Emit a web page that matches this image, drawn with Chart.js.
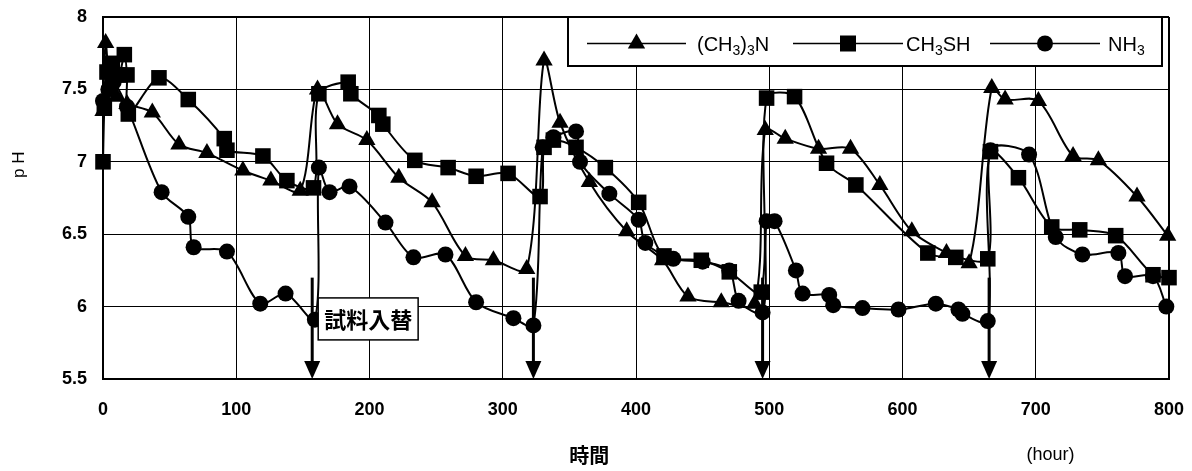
<!DOCTYPE html>
<html>
<head>
<meta charset="utf-8">
<script src="https://cdn.jsdelivr.net/npm/chart.js@4.4.1/dist/chart.umd.min.js"></script>
<style>
  html, body { margin: 0; padding: 0; background: #fff; }
</style>
</head>
<body>
<canvas id="phChart" width="1192" height="471"></canvas>
<script>
// tick labels
const xTicks = [0, 100, 200, 300, 400, 500, 600, 700, 800];
const yTicks = [5.5, 6, 6.5, 7, 7.5, 8];

// (CH3)3N
const tmaHours = [0, 2, 5, 10, 18, 37, 57, 78, 105, 126, 148, 161, 176, 198, 222, 247, 272, 293, 318, 331, 343, 365, 393, 420, 439, 464, 489, 497, 512, 537, 561, 583, 607, 633, 650, 667, 677, 702, 728, 747, 776, 799];
const tmaPH = [7.35, 7.82, 7.55, 7.45, 7.4, 7.34, 7.12, 7.06, 6.94, 6.87, 6.8, 7.5, 7.26, 7.15, 6.89, 6.72, 6.35, 6.32, 6.26, 7.7, 7.27, 6.86, 6.52, 6.32, 6.07, 6.03, 6.02, 7.22, 7.16, 7.09, 7.09, 6.84, 6.52, 6.37, 6.3, 7.51, 7.43, 7.42, 7.04, 7.01, 6.76, 6.49];

// CH3SH
const msHours = [0, 1, 3, 7, 12, 16, 18, 19, 42, 64, 91, 93, 120, 138, 158, 162, 184, 186, 207, 210, 234, 259, 280, 304, 328, 331, 338, 355, 377, 402, 421, 449, 470, 494, 498, 519, 543, 565, 619, 640, 664, 666, 687, 712, 733, 760, 788, 800];
const msPH = [7.0, 7.37, 7.62, 7.68, 7.6, 7.74, 7.6, 7.33, 7.58, 7.43, 7.16, 7.08, 7.04, 6.87, 6.82, 7.47, 7.55, 7.47, 7.32, 7.26, 7.01, 6.96, 6.9, 6.92, 6.76, 7.1, 7.15, 7.1, 6.96, 6.72, 6.35, 6.32, 6.24, 6.1, 7.44, 7.45, 6.99, 6.84, 6.37, 6.34, 6.33, 7.07, 6.89, 6.55, 6.53, 6.49, 6.22, 6.2];

// NH3
const nh3Hours = [0, 4, 8, 18, 44, 64, 68, 93, 118, 137, 159, 162, 170, 185, 212, 233, 257, 280, 308, 323, 330, 338, 355, 358, 380, 402, 407, 428, 450, 470, 477, 495, 498, 504, 520, 525, 545, 548, 570, 597, 625, 642, 645, 664, 666, 695, 715, 735, 762, 767, 788, 798];
const nh3PH = [7.42, 7.5, 7.55, 7.38, 6.79, 6.62, 6.41, 6.38, 6.02, 6.09, 5.91, 6.96, 6.79, 6.83, 6.58, 6.34, 6.36, 6.03, 5.92, 5.87, 7.1, 7.17, 7.21, 7.0, 6.78, 6.6, 6.44, 6.33, 6.31, 6.25, 6.04, 5.96, 6.59, 6.59, 6.25, 6.09, 6.08, 6.01, 5.99, 5.98, 6.02, 5.98, 5.95, 5.9, 7.08, 7.05, 6.48, 6.36, 6.37, 6.21, 6.21, 6.0];

// sample exchange times (arrows)
const swapHours = [157, 323, 495, 665];
const swapTopPH = 6.2;

function toPoints(xs, ys) {
  return xs.map((x, i) => ({ x: x, y: ys[i] }));
}

const legendItems = [
  { parts: [["(CH", 0], ["3", 1], [")", 0], ["3", 1], ["N", 0]], style: "triangle" },
  { parts: [["CH", 0], ["3", 1], ["SH", 0]], style: "rect" },
  { parts: [["NH", 0], ["3", 1]], style: "circle" }
];

function drawMarker(ctx, style, x, y) {
  ctx.beginPath();
  if (style === "triangle") {
    const r = 10;
    ctx.moveTo(x, y - r);
    ctx.lineTo(x + r * 0.866, y + r * 0.5);
    ctx.lineTo(x - r * 0.866, y + r * 0.5);
    ctx.closePath();
  } else if (style === "rect") {
    ctx.rect(x - 8, y - 8, 16, 16);
  } else {
    ctx.arc(x, y, 8, 0, Math.PI * 2);
  }
  ctx.fill();
}

const extrasPlugin = {
  id: "extras",
  afterDatasetsDraw(chart) {
    const ctx = chart.ctx;
    const xs = chart.scales.x;
    const ys = chart.scales.y;
    const area = chart.chartArea;
    ctx.save();
    ctx.fillStyle = "#000";
    ctx.strokeStyle = "#000";

    // arrows
    swapHours.forEach(h => {
      const px = xs.getPixelForValue(h);
      const top = ys.getPixelForValue(swapTopPH);
      ctx.lineWidth = 3;
      ctx.beginPath();
      ctx.moveTo(px, top);
      ctx.lineTo(px, area.bottom - 14);
      ctx.stroke();
      ctx.beginPath();
      ctx.moveTo(px - 8, area.bottom - 18);
      ctx.lineTo(px + 8, area.bottom - 18);
      ctx.lineTo(px, area.bottom);
      ctx.closePath();
      ctx.fill();
    });

    // label box
    const bl = xs.getPixelForValue(161.5), br = xs.getPixelForValue(236.5);
    const bt = ys.getPixelForValue(6.06), bb = ys.getPixelForValue(5.77);
    ctx.fillStyle = "#fff";
    ctx.fillRect(bl, bt, br - bl, bb - bt);
    ctx.lineWidth = 1.5;
    ctx.strokeRect(bl, bt, br - bl, bb - bt);
    ctx.fillStyle = "#000";
    ctx.font = "bold 22px 'Noto Sans CJK JP'";
    ctx.textAlign = "center";
    ctx.textBaseline = "middle";
    ctx.fillText("試料入替", (bl + br) / 2, (bt + bb) / 2 + 1);

    // legend
    const lx = 568, ly = 17, lw = 594, lh = 49;
    ctx.fillStyle = "#fff";
    ctx.fillRect(lx, ly, lw, lh);
    ctx.lineWidth = 2;
    ctx.strokeRect(lx, ly, lw, lh);
    ctx.fillStyle = "#000";
    const cy = ly + lh / 2 + 2;
    const segs = [[587, 686, 697], [793, 903, 906], [990, 1100, 1108]];
    legendItems.forEach((item, i) => {
      const s = segs[i];
      ctx.lineWidth = 1.5;
      ctx.beginPath();
      ctx.moveTo(s[0], cy);
      ctx.lineTo(s[1], cy);
      ctx.stroke();
      drawMarker(ctx, item.style, (s[0] + s[1]) / 2, cy);
      let tx = s[2];
      ctx.textAlign = "left";
      ctx.textBaseline = "alphabetic";
      item.parts.forEach(p => {
        ctx.font = p[1] ? "14px 'Liberation Sans'" : "20px 'Liberation Sans'";
        ctx.fillText(p[0], tx, cy + 7 + (p[1] ? 4 : 0));
        tx += ctx.measureText(p[0]).width;
      });
    });

    // axis titles
    ctx.textAlign = "center";
    ctx.textBaseline = "middle";
    ctx.font = "bold 20px 'Noto Sans CJK JP'";
    ctx.fillText("時間", xs.getPixelForValue(365), 455);
    ctx.font = "18px 'Liberation Sans'";
    ctx.fillText("(hour)", xs.getPixelForValue(711), 455);
    ctx.save();
    ctx.translate(19, ys.getPixelForValue(6.98));
    ctx.rotate(-Math.PI / 2);
    ctx.font = "17px 'Liberation Sans'";
    ctx.fillText("p H", 0, 0);
    ctx.restore();
    ctx.restore();
  }
};

function seriesStyle(label, xs, ys, shape, radius) {
  return {
    label: label,
    data: toPoints(xs, ys),
    borderColor: "#000",
    backgroundColor: "#000",
    borderWidth: 2,
    pointStyle: shape,
    pointRadius: radius,
    pointHoverRadius: radius,
    pointBorderWidth: 0,
    tension: 0.3,
    clip: 12
  };
}

new Chart(document.getElementById("phChart"), {
  type: "line",
  data: {
    datasets: [
      seriesStyle("(CH3)3N", tmaHours, tmaPH, "triangle", 10),
      seriesStyle("CH3SH", msHours, msPH, "rect", 11),
      seriesStyle("NH3", nh3Hours, nh3PH, "circle", 8)
    ]
  },
  options: {
    responsive: false,
    devicePixelRatio: 1,
    animation: false,
    layout: { padding: { top: 17, right: 23, left: 0, bottom: 0 } },
    plugins: {
      legend: { display: false },
      tooltip: { enabled: false }
    },
    scales: {
      x: {
        type: "linear",
        min: 0,
        max: 800,
        afterBuildTicks: s => { s.ticks = xTicks.map(v => ({ value: v })); },
        afterFit: s => { s.height = 92; s.paddingLeft = 0; s.paddingRight = 0; },
        grid: {
          color: "#000",
          lineWidth: c => (c.tick && (c.tick.value === 800)) ? 2 : 1,
          drawTicks: false
        },
        border: { display: true, color: "#000", width: 2 },
        ticks: {
          color: "#000",
          padding: 20,
          maxRotation: 0,
          callback: v => String(v),
          font: { family: "'Liberation Sans'", size: 18, weight: "bold" }
        }
      },
      y: {
        min: 5.5,
        max: 8,
        afterBuildTicks: s => { s.ticks = yTicks.map(v => ({ value: v })); },
        afterFit: s => { s.width = 103; s.paddingTop = 0; s.paddingBottom = 0; },
        grid: {
          color: "#000",
          lineWidth: c => (c.tick && (c.tick.value === 8)) ? 2 : 1,
          drawTicks: false
        },
        border: { display: true, color: "#000", width: 2 },
        ticks: {
          color: "#000",
          padding: 16,
          callback: v => String(v),
          font: { family: "'Liberation Sans'", size: 18, weight: "bold" }
        }
      }
    }
  },
  plugins: [extrasPlugin]
});
</script>
</body>
</html>
